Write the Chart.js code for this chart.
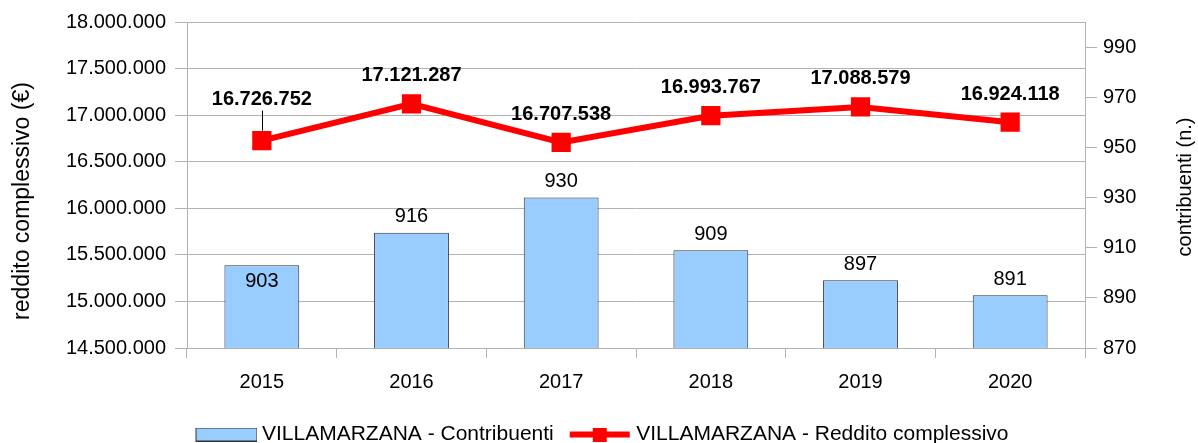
<!DOCTYPE html>
<html lang="it">
<head>
<meta charset="UTF-8">
<title>Villamarzana - Reddito complessivo e contribuenti</title>
<script src="https://cdn.jsdelivr.net/npm/chart.js"></script>
<style>
  html, body { margin: 0; padding: 0; background: #fff; }
  canvas { display: block; }
</style>
</head>
<body>
<canvas id="grafico" width="1198" height="443"></canvas>

<script>
// dati
const anni = ['2015', '2016', '2017', '2018', '2019', '2020'];
const contribuenti = [903, 916, 930, 909, 897, 891];
const reddito = [16726752, 17121287, 16707538, 16993767, 17088579, 16924118];
const tickReddito = [14500000, 15000000, 15500000, 16000000, 16500000, 17000000, 17500000, 18000000];
const tickContribuenti = [870, 890, 910, 930, 950, 970, 990];

const FONT = '"Liberation Sans", Arial, sans-serif';
const GRIGIO = '#b3b3b3';

// separatore delle migliaia all'italiana
function formatta(v) {
  return String(v).replace(/\B(?=(\d{3})+(?!\d))/g, '.');
}

function simbolo(w, h, disegna) {
  const c = document.createElement('canvas');
  c.width = w;
  c.height = h;
  disegna(c.getContext('2d'));
  return c;
}

// simboli della legenda (larghi 74: i primi 12 px vuoti spostano il simbolo verso il testo)
const simboli = [
  simbolo(74, 14, g => {
    g.fillStyle = '#99ccff';
    g.fillRect(12, 0, 62, 14);
    g.strokeStyle = '#333';
    g.lineWidth = 1;
    g.strokeRect(12.5, 0.5, 61, 13);
  }),
  simbolo(74, 14, g => {
    g.fillStyle = '#ff0000';
    g.fillRect(12, 4, 60, 6);
    g.fillRect(35, 0, 14, 14);
  })
];

// etichette dei valori e titoli degli assi
const etichette = {
  id: 'etichette',
  afterDatasetsDraw(chart) {
    const g = chart.ctx;
    g.save();
    g.fillStyle = '#000';
    g.textAlign = 'center';
    g.textBaseline = 'middle';

    g.font = '20px ' + FONT;
    chart.getDatasetMeta(0).data.forEach((bar, i) => {
      // la prima etichetta sta dentro la barra, come nell'originale
      const y = i === 0 ? bar.y + 16 : bar.y - 16;
      g.fillText(contribuenti[i], bar.x, y);
    });

    g.font = 'bold 20px ' + FONT;
    chart.getDatasetMeta(1).data.forEach((p, i) => {
      const su = i === 0 ? 41 : 28;
      g.fillText(formatta(reddito[i]), p.x, p.y - su);
      if (i === 0) {
        g.strokeStyle = '#000';
        g.lineWidth = 1;
        g.beginPath();
        g.moveTo(Math.round(p.x) + 0.5, p.y - 10);
        g.lineTo(Math.round(p.x) + 0.5, p.y - su + 11);
        g.stroke();
      }
    });

    // titoli degli assi, entrambi ruotati in senso antiorario
    g.font = '23px ' + FONT;
    g.translate(23, 201);
    g.rotate(-Math.PI / 2);
    g.fillText('reddito complessivo (€)', 0, 0);
    g.setTransform(1, 0, 0, 1, 0, 0);
    g.font = '20px ' + FONT;
    g.translate(1185, 187);
    g.rotate(-Math.PI / 2);
    g.fillText('contribuenti (n.)', 0, 0);
    g.restore();
  }
};

Chart.defaults.font.family = FONT;
Chart.defaults.font.size = 20;
Chart.defaults.color = '#000';

new Chart(document.getElementById('grafico'), {
  data: {
    labels: anni,
    datasets: [
      {
        type: 'bar',
        label: 'VILLAMARZANA - Contribuenti',
        data: contribuenti,
        yAxisID: 'y1',
        backgroundColor: '#99ccff',
        borderColor: '#333',
        borderWidth: 1,
        barPercentage: 0.5,
        categoryPercentage: 1,
        order: 1
      },
      {
        type: 'line',
        label: 'VILLAMARZANA - Reddito complessivo',
        data: reddito,
        yAxisID: 'y',
        borderColor: '#ff0000',
        backgroundColor: '#ff0000',
        borderWidth: 6,
        pointStyle: 'rect',
        pointRadius: 13.6,
        pointHoverRadius: 13.6,
        pointBorderWidth: 0,
        order: 0
      }
    ]
  },
  options: {
    responsive: false,
    animation: false,
    events: [],
    layout: { padding: { top: 22, bottom: -12, left: 0, right: 0 } },
    plugins: {
      tooltip: { enabled: false },
      legend: {
        position: 'bottom',
        labels: {
          usePointStyle: true,
          pointStyleWidth: 62,
          boxHeight: 16,
          padding: 10,
          font: { size: 21 },
          sort: (a, b) => a.datasetIndex - b.datasetIndex,
          generateLabels: chart => Chart.defaults.plugins.legend.labels.generateLabels(chart).map(item => {
            item.pointStyle = simboli[item.datasetIndex];
            return item;
          })
        }
      }
    },
    scales: {
      x: {
        offset: true,
        grid: { offset: true, drawOnChartArea: false, color: GRIGIO, tickLength: 10 },
        border: { color: GRIGIO },
        ticks: { padding: 12 },
        afterFit: s => { s.height = 66; }
      },
      y: {
        position: 'left',
        min: 14500000,
        max: 18000000,
        afterBuildTicks: s => { s.ticks = tickReddito.map(v => ({ value: v })); },
        grid: { color: GRIGIO, tickLength: 12 },
        border: { color: GRIGIO },
        ticks: { padding: 9, callback: v => formatta(v) },
        afterFit: s => { s.width = 187; }
      },
      y1: {
        position: 'right',
        min: 870,
        max: 1000,
        afterBuildTicks: s => { s.ticks = tickContribuenti.map(v => ({ value: v })); },
        grid: { drawOnChartArea: false, color: GRIGIO, tickLength: 12 },
        border: { color: GRIGIO },
        ticks: { padding: 6 },
        afterFit: s => { s.width = 113; }
      }
    }
  },
  plugins: [etichette]
});
</script>
</body>
</html>
